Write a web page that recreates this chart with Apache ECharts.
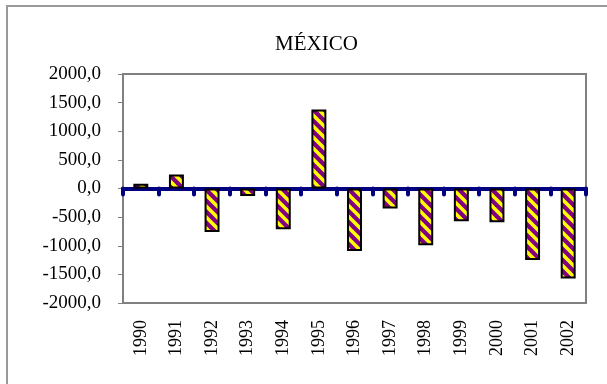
<!DOCTYPE html>
<html>
<head>
<meta charset="utf-8">
<script src="https://cdn.jsdelivr.net/npm/echarts@6/dist/echarts.min.js"></script>
<style>
html, body { margin: 0; padding: 0; background: #fff; }
#main { width: 607px; height: 384px; }
</style>
</head>
<body>
<div id="main"></div>
<script>
// datos
var years = ['1990', '1991', '1992', '1993', '1994', '1995', '1996', '1997', '1998', '1999', '2000', '2001', '2002'];
var saldo = [85, 245, -760, -130, -710, 1380, -1090, -350, -990, -570, -590, -1250, -1570];
var yTicks = { min: -2000, max: 2000, step: 500 };

// relleno rayado morado / amarillo
function rayas() {
	var n = 11;
	var c = document.createElement('canvas');
	c.width = n;
	c.height = n;
	var ctx = c.getContext('2d');
	ctx.fillStyle = '#800080';
	ctx.fillRect(0, 0, n, n);
	ctx.strokeStyle = '#FFFF00';
	ctx.lineWidth = 3.5;
	for (var k = -n; k <= n; k += n) {
		ctx.beginPath();
		ctx.moveTo(k - 2, -2);
		ctx.lineTo(k + n + 2, n + 2);
		ctx.stroke();
	}
	return c;
}

var dom = document.getElementById('main');
var myChart = echarts.init(dom);
var serif = '"Liberation Serif", "Times New Roman", serif';

var option = {
	backgroundColor: '#fff',
	animation: false,
	title: {
		text: 'MÉXICO',
		left: 270,
		top: 29,
		textStyle: { fontFamily: serif, fontSize: 21, fontWeight: 'normal', color: '#000' }
	},
	graphic: [{
		type: 'rect',
		shape: { x: 7, y: 6, width: 700, height: 500 },
		style: { fill: 'none', stroke: '#999', lineWidth: 2 },
		silent: true
	}],
	grid: {
		left: 123, right: 21, top: 74, bottom: 81,
		show: true, borderColor: '#808080', borderWidth: 2
	},
	xAxis: [{
		type: 'category',
		data: years,
		position: 'bottom',
		axisLine: { onZero: true, lineStyle: { color: '#000080', width: 4 } },
		axisTick: { show: true, length: 6, lineStyle: { color: '#000080', width: 4, cap: 'round' } },
		axisLabel: { show: false },
		splitLine: { show: false }
	}, {
		type: 'category',
		data: years,
		position: 'bottom',
		axisLine: { show: false, onZero: false },
		axisTick: { show: false },
		axisLabel: { rotate: 90, margin: 17, fontFamily: serif, fontSize: 18, color: '#000' },
		splitLine: { show: false }
	}],
	yAxis: {
		type: 'value',
		min: yTicks.min,
		max: yTicks.max,
		interval: yTicks.step,
		axisLine: { show: true, lineStyle: { color: '#808080', width: 2 } },
		axisTick: { show: true, length: 5, lineStyle: { color: '#808080', width: 1 } },
		axisLabel: {
			margin: 22,
			fontFamily: serif,
			fontSize: 19,
			color: '#000',
			formatter: function (v) { return v.toFixed(1).replace('.', ','); }
		},
		splitLine: { show: false }
	},
	series: [{
		type: 'bar',
		xAxisIndex: 0,
		data: saldo,
		barWidth: '42%',
		itemStyle: {
			color: { image: rayas(), repeat: 'repeat' },
			borderColor: '#000',
			borderWidth: 2
		}
	}]
};
myChart.setOption(option);
</script>
</body>
</html>
